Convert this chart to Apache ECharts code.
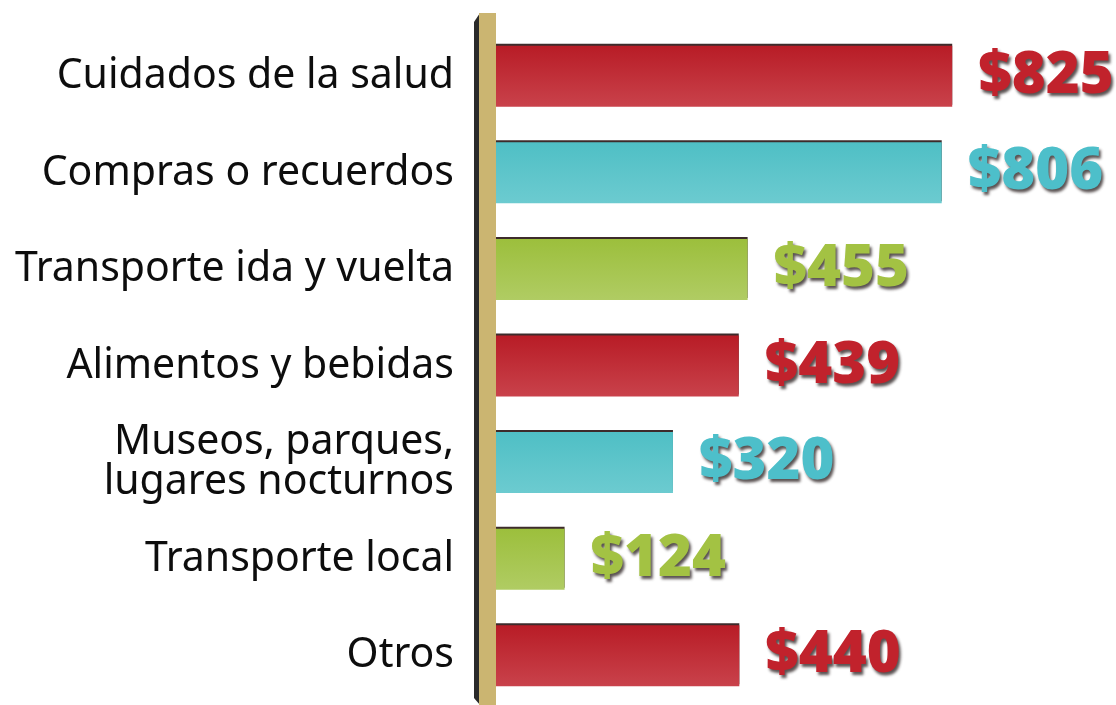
<!DOCTYPE html>
<html>
<head>
<meta charset="utf-8">
<script src="https://cdn.jsdelivr.net/npm/echarts@6/dist/echarts.min.js"></script>
<style>html,body{margin:0;padding:0;background:#fff}#c{width:1116px;height:705px}</style>
</head>
<body>
<div id="c"></div>
<script>
const categories = ["Cuidados de la salud", "Compras o recuerdos", "Transporte ida y vuelta", "Alimentos y bebidas", "Museos, parques,\nlugares nocturnos", "Transporte local", "Otros"];
const values = [825, 806, 455, 439, 320, 124, 440];
const barTop = ["#b81c26", "#4fbfc5", "#9cbf3c", "#b81c26", "#4fbfc5", "#9cbf3c", "#b81c26"];
const barBottom = ["#c9424b", "#6ccbd0", "#b0cc63", "#c9424b", "#6ccbd0", "#b0cc63", "#c9424b"];
const labelColors = ["#c1222c", "#4dbfca", "#a3c243", "#c1222c", "#4dbfca", "#a3c243", "#c1222c"];

const chart = echarts.init(document.getElementById('c'), null, {renderer: 'canvas'});
const data = values.map((v, i) => ({
  value: v,
  itemStyle: {
    color: new echarts.graphic.LinearGradient(0, 0, 0, 1, [
      {offset: 0, color: barTop[i]},
      {offset: 1, color: barBottom[i]}
    ]),
    shadowColor: 'rgba(40,20,20,0.9)',
    shadowOffsetY: -2,
    shadowBlur: 0
  },
  label: {color: labelColors[i]}
}));

chart.setOption({
  animation: false,
  backgroundColor: '#ffffff',
  grid: {left: 496, right: 67, top: 28, bottom: 1, containLabel: false},
  xAxis: {type: 'value', min: 0, max: 1000, show: false},
  yAxis: {
    type: 'category',
    data: categories,
    inverse: true,
    axisLine: {show: false},
    axisTick: {show: false},
    splitLine: {show: false},
    axisLabel: {
      margin: 42,
      fontFamily: 'Noto Sans',
      fontSize: 41,
      color: '#0d0d0d',
      lineHeight: 40,
      align: 'right'
    }
  },
  graphic: [
    {type: 'polygon', z: 10, shape: {points: [[474, 22], [480, 13], [480, 705], [474, 698]]}, style: {fill: '#2a2a2a'}},
    {type: 'rect', z: 10, shape: {x: 479, y: 13, width: 17, height: 692}, style: {fill: '#cbb571'}}
  ],
  series: [{
    type: 'bar',
    data: data,
    barWidth: 61,
    label: {
      show: true,
      position: 'right',
      distance: 26,
      formatter: p => '$' + p.value,
      fontFamily: 'Open Sans',
      fontWeight: 800,
      fontSize: 58,
      textShadowColor: 'rgba(60,50,50,0.85)',
      textShadowBlur: 3,
      textShadowOffsetX: 2,
      textShadowOffsetY: 3
    }
  }]
});
</script>
</body>
</html>
